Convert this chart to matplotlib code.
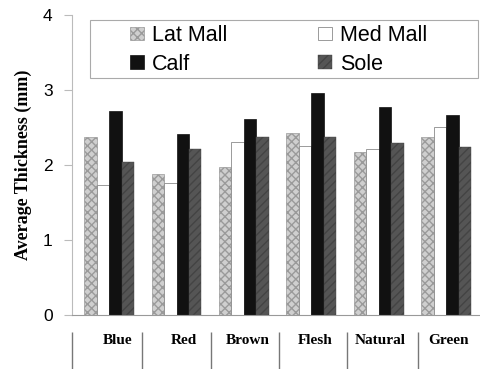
import matplotlib.pyplot as plt
from matplotlib.patches import Rectangle
import numpy as np

colors = ['Blue', 'Red', 'Brown', 'Flesh', 'Natural', 'Green']
lat_mall = [2.38, 1.88, 1.98, 2.43, 2.17, 2.38]
med_mall = [1.73, 1.76, 2.31, 2.25, 2.21, 2.51]
calf = [2.72, 2.42, 2.61, 2.96, 2.77, 2.67]
sole = [2.04, 2.22, 2.38, 2.38, 2.29, 2.24]

fig = plt.figure(figsize=(4.8, 3.69), dpi=100)
ax = fig.add_axes([0.15, 0.146, 0.85, 0.813])

x = np.arange(len(colors))
w = 0.185
b1 = ax.bar(x - 1.5 * w, lat_mall, w, color='#cfcfcf', edgecolor='#9a9a9a', hatch='xxxx', linewidth=0.5, label='Lat Mall')
b2 = ax.bar(x - 0.5 * w, med_mall, w, color='white', edgecolor='#8a8a8a', linewidth=0.6, label='Med Mall')
b3 = ax.bar(x + 0.5 * w, calf, w, color='#111111', edgecolor='#111111', linewidth=0.5, label='Calf')
b4 = ax.bar(x + 1.5 * w, sole, w, color='#555555', edgecolor='#444444', hatch='////', linewidth=0.3, label='Sole')

ax.set_xlim(-0.55, 5.5)
ax.set_ylim(0, 4)
ax.set_yticks([0, 1, 2, 3, 4])
ax.tick_params(axis='y', length=6, color='#bbbbbb', labelsize=12.5, pad=8)
for t in ax.get_yticklabels():
    t.set_family('Liberation Sans')
ax.set_xticks([])
for s in ['top', 'right']:
    ax.spines[s].set_visible(False)
ax.spines['left'].set_color('#bbbbbb')
ax.spines['bottom'].set_color('#999999')

ax.set_ylabel('Average Thickness (mm)', family='Liberation Serif', fontweight='bold', fontsize=13, labelpad=8)

# category row with separators
sec = ax.secondary_xaxis(-0.055)
sec.spines['bottom'].set_visible(False)
sec.set_xticks(x + np.array([0.13, 0.11, 0.06, 0.06, 0.02, 0.04]))
sec.set_xticklabels(colors, family='Liberation Serif', fontweight='bold', fontsize=11)
sec.set_xticks([-0.55, 0.49, 1.51, 2.52, 3.53, 4.58], minor=True)
sec.tick_params(axis='x', which='major', length=0, pad=2)
sec.tick_params(axis='x', which='minor', length=28, color='#777777', width=1)

# legend box
ax.add_patch(Rectangle((0.044, 0.79), 0.95, 0.195, transform=ax.transAxes,
                       facecolor='white', edgecolor='#aaaaaa', linewidth=0.8, zorder=4))
leg = ax.legend([b1, b3, b2, b4], ['Lat Mall', 'Calf', 'Med Mall', 'Sole'],
                ncol=2, loc='upper left', bbox_to_anchor=(0.142, 0.967),
                frameon=False, handlelength=0.67, handleheight=0.6, handletextpad=0.36,
                borderpad=0, labelspacing=0.36, columnspacing=4.2, borderaxespad=0,
                prop={'family': 'Liberation Sans', 'size': 15.5})
leg.set_zorder(5)

fig.savefig('out.png', dpi=100)
